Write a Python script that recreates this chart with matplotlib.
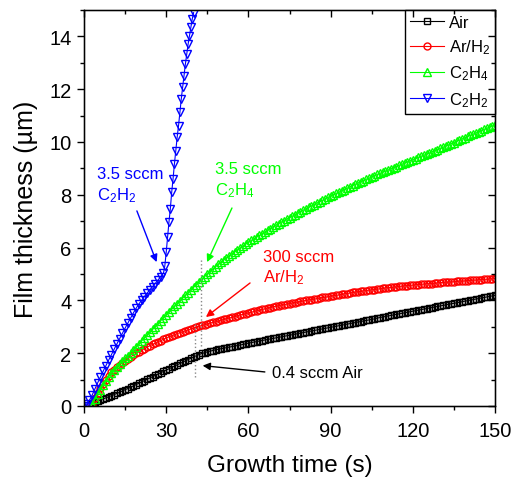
import matplotlib
matplotlib.use('Agg')
import matplotlib.pyplot as plt
import numpy as np
from matplotlib.ticker import MultipleLocator

plt.rcParams['font.family'] = ['Liberation Sans', 'DejaVu Sans']
plt.rcParams['mathtext.fontset'] = 'custom'
plt.rcParams['mathtext.rm'] = 'Liberation Sans'
plt.rcParams['mathtext.it'] = 'Liberation Sans:italic'
plt.rcParams['mathtext.bf'] = 'Liberation Sans:bold'

# ---------------- data ----------------
t_dense = np.arange(3, 151)          # growth time, s (Air, Ar/H2, C2H4)

air_y = [0.12, 0.15, 0.19, 0.23, 0.27, 0.31, 0.35, 0.39, 0.43, 0.48,
         0.52, 0.57, 0.62, 0.66, 0.71, 0.76, 0.81, 0.86, 0.91, 0.96,
         1.01, 1.06, 1.11, 1.16, 1.21, 1.26, 1.31, 1.36, 1.41, 1.46,
         1.51, 1.56, 1.61, 1.66, 1.71, 1.76, 1.81, 1.86, 1.91, 1.95,
         1.99, 2.02, 2.05, 2.08, 2.10, 2.13, 2.15, 2.17, 2.19, 2.21,
         2.23, 2.25, 2.27, 2.29, 2.31, 2.33, 2.36, 2.38, 2.40, 2.42,
         2.44, 2.46, 2.48, 2.50, 2.52, 2.54, 2.56, 2.58, 2.60, 2.62,
         2.64, 2.66, 2.68, 2.70, 2.72, 2.74, 2.76, 2.78, 2.80, 2.82,
         2.84, 2.86, 2.88, 2.90, 2.92, 2.94, 2.96, 2.98, 3.00, 3.02,
         3.04, 3.06, 3.08, 3.10, 3.12, 3.14, 3.16, 3.18, 3.20, 3.22,
         3.24, 3.26, 3.28, 3.30, 3.33, 3.35, 3.37, 3.39, 3.41, 3.43,
         3.45, 3.47, 3.49, 3.51, 3.53, 3.55, 3.57, 3.59, 3.61, 3.63,
         3.65, 3.67, 3.69, 3.71, 3.73, 3.75, 3.77, 3.79, 3.81, 3.83,
         3.85, 3.87, 3.89, 3.91, 3.93, 3.95, 3.97, 3.99, 4.01, 4.03,
         4.05, 4.07, 4.09, 4.11, 4.13, 4.15, 4.17, 4.19]

arh2_y = [0.05, 0.30, 0.50, 0.68, 0.85, 1.00, 1.14, 1.27, 1.37, 1.46,
          1.55, 1.64, 1.72, 1.79, 1.86, 1.93, 1.99, 2.05, 2.11, 2.17,
          2.23, 2.28, 2.33, 2.38, 2.43, 2.48, 2.53, 2.58, 2.62, 2.66,
          2.70, 2.74, 2.78, 2.81, 2.85, 2.88, 2.92, 2.95, 2.98, 3.02,
          3.05, 3.08, 3.11, 3.14, 3.17, 3.19, 3.22, 3.25, 3.28, 3.31,
          3.33, 3.36, 3.39, 3.42, 3.45, 3.47, 3.50, 3.53, 3.55, 3.58,
          3.61, 3.63, 3.66, 3.68, 3.71, 3.73, 3.76, 3.78, 3.80, 3.82,
          3.84, 3.86, 3.88, 3.90, 3.92, 3.94, 3.96, 3.98, 4.00, 4.02,
          4.03, 4.05, 4.07, 4.09, 4.11, 4.12, 4.14, 4.16, 4.18, 4.19,
          4.21, 4.23, 4.25, 4.26, 4.28, 4.30, 4.31, 4.33, 4.34, 4.36,
          4.37, 4.39, 4.40, 4.41, 4.43, 4.44, 4.46, 4.47, 4.48, 4.49,
          4.50, 4.51, 4.53, 4.54, 4.55, 4.56, 4.57, 4.58, 4.59, 4.60,
          4.61, 4.62, 4.63, 4.63, 4.64, 4.65, 4.66, 4.67, 4.68, 4.69,
          4.69, 4.70, 4.71, 4.72, 4.73, 4.73, 4.74, 4.75, 4.76, 4.77,
          4.77, 4.78, 4.79, 4.80, 4.80, 4.81, 4.82, 4.83]

c2h4_y = [0.05, 0.25, 0.45, 0.62, 0.78, 0.95, 1.10, 1.25, 1.36, 1.47,
          1.58, 1.69, 1.80, 1.91, 2.02, 2.13, 2.24, 2.35, 2.46, 2.57,
          2.68, 2.79, 2.90, 3.01, 3.12, 3.23, 3.34, 3.45, 3.56, 3.66,
          3.77, 3.87, 3.98, 4.08, 4.19, 4.29, 4.40, 4.50, 4.60, 4.70,
          4.80, 4.90, 5.00, 5.09, 5.18, 5.27, 5.36, 5.45, 5.53, 5.61,
          5.69, 5.77, 5.84, 5.91, 5.98, 6.06, 6.13, 6.20, 6.27, 6.33,
          6.40, 6.46, 6.53, 6.59, 6.66, 6.72, 6.79, 6.85, 6.91, 6.97,
          7.02, 7.08, 7.14, 7.19, 7.25, 7.31, 7.36, 7.42, 7.47, 7.53,
          7.58, 7.63, 7.69, 7.74, 7.79, 7.85, 7.90, 7.95, 8.00, 8.05,
          8.10, 8.15, 8.20, 8.25, 8.30, 8.35, 8.40, 8.45, 8.50, 8.54,
          8.59, 8.63, 8.68, 8.72, 8.77, 8.81, 8.86, 8.90, 8.94, 8.99,
          9.03, 9.07, 9.12, 9.16, 9.20, 9.25, 9.29, 9.33, 9.37, 9.42,
          9.46, 9.50, 9.54, 9.58, 9.63, 9.67, 9.71, 9.76, 9.80, 9.85,
          9.89, 9.94, 9.98, 10.03, 10.07, 10.12, 10.16, 10.21, 10.25, 10.30,
          10.34, 10.39, 10.43, 10.48, 10.52, 10.57, 10.61, 10.65]

c2h2_t1 = np.arange(0, 30)           # dense part, s
c2h2_y1 = [0.00, 0.08, 0.22, 0.42, 0.65, 0.88, 1.10, 1.32, 1.53, 1.74,
           1.94, 2.15, 2.35, 2.55, 2.75, 2.95, 3.14, 3.33, 3.52, 3.70,
           3.86, 4.00, 4.14, 4.27, 4.40, 4.52, 4.64, 4.77, 4.90, 5.03]
c2h2_t2 = [29.5, 30.0, 30.5, 31.0, 31.5, 32.0, 32.5, 33.0, 33.5, 34.0, 34.5,
           35.0, 35.5, 36.0, 36.5, 37.0, 37.5, 38.0, 38.5, 39.0, 39.5, 40.0]
c2h2_y2 = [5.31, 5.82, 6.39, 6.96, 7.46, 8.09, 8.60, 9.17, 9.67, 10.18, 10.62,
           11.12, 11.63, 12.07, 12.51, 12.95, 13.33, 13.71, 14.03, 14.34, 14.66, 14.90]

labels = ['Air', 'Ar/H$_2$', 'C$_2$H$_4$', 'C$_2$H$_2$']
colors = ['#000000', '#ff0000', '#00ff00', '#0000ff']

# ---------------- figure ----------------
fig = plt.figure(figsize=(5.20, 4.81), dpi=100)
ax = fig.add_axes([84/520, 1-407/481, (495-84)/520, (407-11)/481])

common = dict(mfc='none', lw=0.8, mew=1.0)
ax.plot(t_dense, air_y, marker='s', ms=5, color=colors[0], label=labels[0], **common)
ax.plot(t_dense, arh2_y, marker='o', ms=5, color=colors[1], label=labels[1], **common)
ax.plot(t_dense, c2h4_y, marker='^', ms=6, color=colors[2], label=labels[2], **common)
c2h2_t = np.concatenate([c2h2_t1, c2h2_t2])
c2h2_y = np.concatenate([c2h2_y1, c2h2_y2])
ax.plot(c2h2_t, c2h2_y, marker='v', ms=6, color=colors[3], label=labels[3], **common)

ax.set_xlim(0, 150)
ax.set_ylim(0, 15)
ax.xaxis.set_major_locator(MultipleLocator(30))
ax.xaxis.set_minor_locator(MultipleLocator(15))
ax.yaxis.set_major_locator(MultipleLocator(2))
ax.yaxis.set_minor_locator(MultipleLocator(1))
ax.tick_params(which='both', direction='out', width=1.0, labelsize=14.5)
ax.tick_params(axis='x', which='both', pad=6)
ax.tick_params(axis='y', which='both', pad=4)
ax.tick_params(which='major', length=5)
ax.tick_params(which='minor', length=3)
for s in ax.spines.values():
    s.set_linewidth(1.0)

# mirrored inward ticks on top / right
axr = ax.twinx()
axr.set_ylim(ax.get_ylim())
axr.yaxis.set_major_locator(MultipleLocator(2))
axr.yaxis.set_minor_locator(MultipleLocator(1))
axr.tick_params(which='both', direction='in', labelright=False, width=1.0)
axr.tick_params(which='major', length=5)
axr.tick_params(which='minor', length=3)
axt = ax.twiny()
axt.set_xlim(ax.get_xlim())
axt.xaxis.set_major_locator(MultipleLocator(30))
axt.xaxis.set_minor_locator(MultipleLocator(15))
axt.tick_params(which='both', direction='in', labeltop=False, width=1.0)
axt.tick_params(which='major', length=5)
axt.tick_params(which='minor', length=3)

ax.set_xlabel('Growth time (s)', fontsize=17.5, labelpad=10)
ax.set_ylabel('Film thickness (\u00b5m)', fontsize=18, labelpad=8)

# dotted guide lines
ax.plot([42.6, 42.6], [2.27, 5.6], ls=':', color='#888888', lw=1.0)
ax.plot([40.5, 40.5], [1.1, 3.2], ls=':', color='#888888', lw=1.0)

# annotations
fs = 12
ax.text(4.7, 8.8, '3.5 sccm', color='#0000ff', fontsize=fs, ha='left', va='center')
ax.text(4.7, 8.0, 'C$_2$H$_2$', color='#0000ff', fontsize=fs, ha='left', va='center')
ax.text(47.8, 9.0, '3.5 sccm', color='#00ff00', fontsize=fs, ha='left', va='center')
ax.text(47.8, 8.2, 'C$_2$H$_4$', color='#00ff00', fontsize=fs, ha='left', va='center')
ax.text(65.3, 5.68, '300 sccm', color='#ff0000', fontsize=fs, ha='left', va='center')
ax.text(65.3, 4.9, 'Ar/H$_2$', color='#ff0000', fontsize=fs, ha='left', va='center')
ax.text(68.5, 1.25, '0.4 sccm Air', color='#000000', fontsize=fs, ha='left', va='center')

def arrow(start, tip, c):
    ax.annotate('', xy=tip, xytext=start,
                arrowprops=dict(arrowstyle='-|>', color=c, lw=1.0,
                                mutation_scale=11, shrinkA=0, shrinkB=0))

arrow((19.3, 7.39), (26.5, 5.45), '#0000ff')
arrow((54.0, 7.5), (44.9, 5.45), '#00ff00')
arrow((60.6, 4.66), (44.5, 3.37), '#ff0000')
arrow((66.0, 1.29), (43.3, 1.53), '#000000')

leg = ax.legend(loc='upper right', fontsize=12, frameon=True, fancybox=False,
                edgecolor='black', framealpha=1, borderaxespad=0,
                handlelength=2.0, handletextpad=0.3, borderpad=0.3,
                labelspacing=0.45, numpoints=1)
leg.get_frame().set_linewidth(1.0)
leg.set_zorder(10)

fig.savefig('out.png', dpi=100)
